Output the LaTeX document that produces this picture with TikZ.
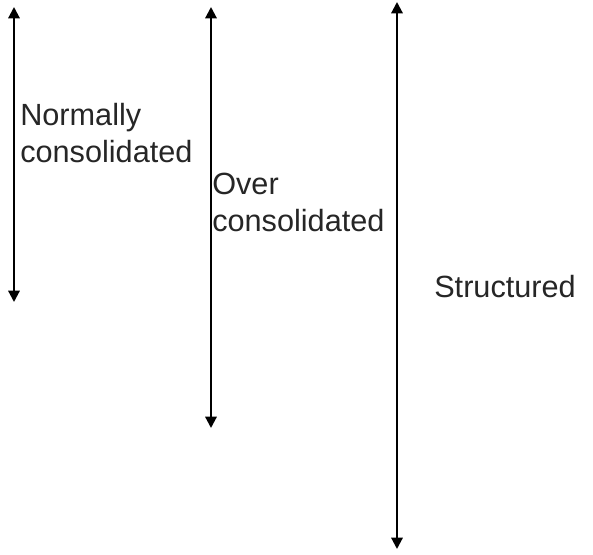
\documentclass[tikz,border=0pt]{standalone}
\usepackage{fontspec}
\setmainfont{Liberation Sans}
\usetikzlibrary{arrows.meta}
\begin{document}
\begin{tikzpicture}[x=0.75pt,y=-0.75pt,
  dbl/.style={line width=1.6pt,{Triangle[width=8.5pt,length=8.5pt]}-{Triangle[width=8.5pt,length=8.5pt]}},
  lbl/.style={anchor=north west,inner sep=0pt,align=left,text=black!85,font=\fontsize{23}{27.75}\selectfont}]
\useasboundingbox (0,0) rectangle (593,554);
\coordinate (a1t) at (14,7);
\coordinate (a1b) at (14,302);
\coordinate (a2t) at (211,7);
\coordinate (a2b) at (211,428);
\coordinate (a3t) at (397,2);
\coordinate (a3b) at (397,549);
\draw[dbl] (a1t) -- (a1b);
\draw[dbl] (a2t) -- (a2b);
\draw[dbl] (a3t) -- (a3b);
\node[lbl] (nc) at (20,103) {Normally\\consolidated};
\node[lbl] (oc) at (212,173) {Over\\consolidated};
\node[lbl] (st) at (434,275) {Structured};
\end{tikzpicture}
\end{document}
